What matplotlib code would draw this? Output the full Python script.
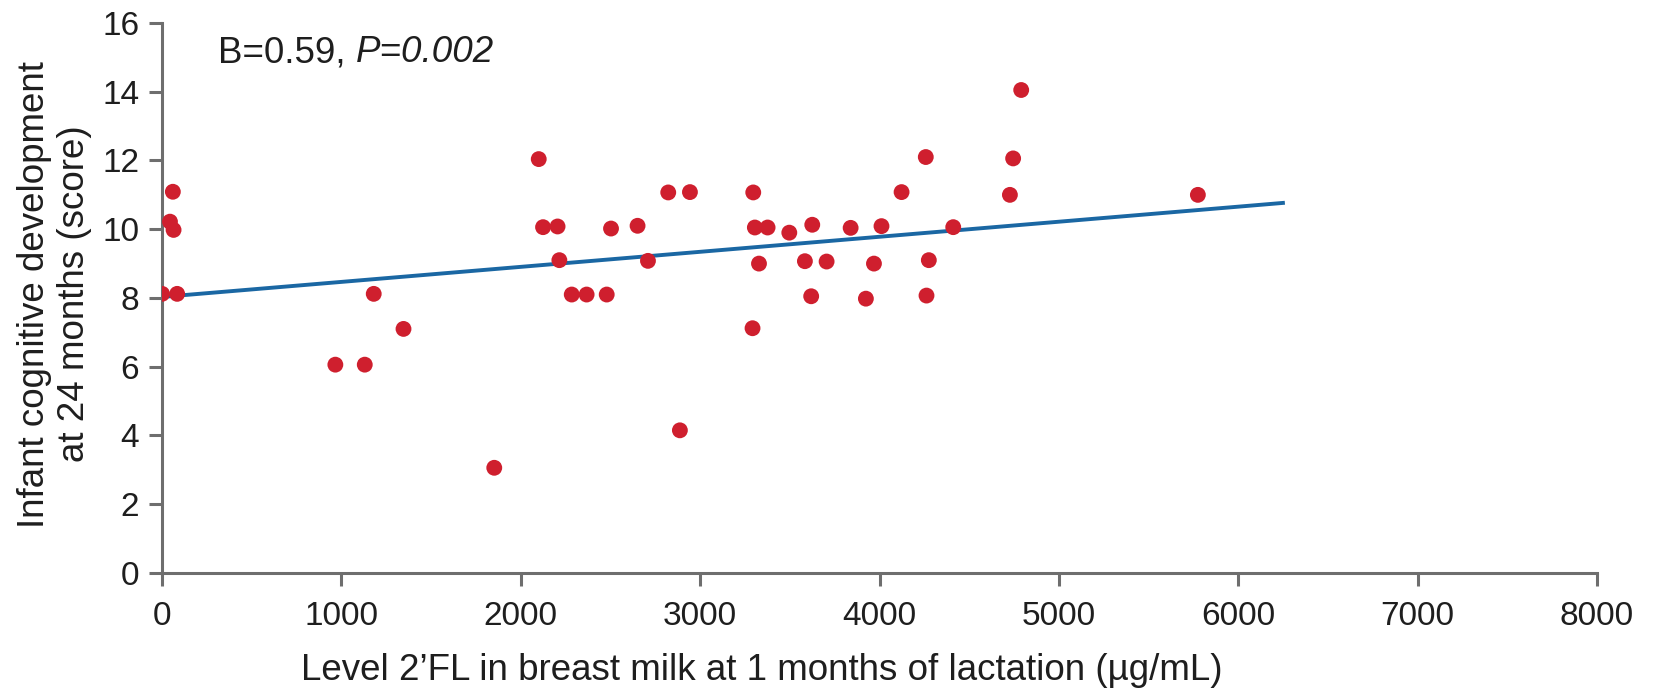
import matplotlib
matplotlib.use("Agg")
import matplotlib.pyplot as plt

plt.rcParams["font.family"] = ["Liberation Sans", "DejaVu Sans"]

# 2'FL level (ug/mL) and cognitive score for each infant
level_2fl = [0, 44, 60, 64, 84, 966, 1130, 1180, 1346, 1852,
             2100, 2124, 2205, 2215, 2284, 2367, 2479, 2503, 2651, 2709,
             2822, 2887, 2943, 3292, 3296, 3305, 3328, 3376, 3497, 3584,
             3619, 3625, 3705, 3839, 3924, 3969, 4011, 4123, 4258, 4262,
             4275, 4411, 4727, 4745, 4790, 5775]
cog_score = [8.12, 10.22, 11.09, 9.98, 8.12, 6.06, 6.06, 8.12, 7.10, 3.06,
             12.04, 10.06, 10.08, 9.10, 8.10, 8.10, 8.10, 10.02, 10.10, 9.08,
             11.07, 4.15, 11.08, 7.12, 11.07, 10.05, 9.00, 10.05, 9.90, 9.07,
             8.05, 10.13, 9.06, 10.04, 7.98, 9.00, 10.09, 11.08, 12.10, 8.07,
             9.10, 10.06, 11.00, 12.06, 14.05, 11.00]

# regression line end points
fit_x = [0, 6260]
fit_y = [8.03, 10.77]

x_ticks = [0, 1000, 2000, 3000, 4000, 5000, 6000, 7000, 8000]
y_ticks = [0, 2, 4, 6, 8, 10, 12, 14, 16]

axis_col = "#6e6e6e"
text_col = "#1e1e1e"
label_fs = 26.5
tick_fs = 24

fig = plt.figure(figsize=(16.54, 6.92), dpi=100)
ax = fig.add_axes([0.098, 0.172, 0.8675, 0.7948])

ax.plot(fit_x, fit_y, color="#1a67a3", lw=2.8, zorder=2, solid_capstyle="butt")
ax.scatter(level_2fl, cog_score, s=130, color="#cf1f2e", edgecolors="none", zorder=3)

ax.set_xlim(0, 8000)
ax.set_ylim(0, 16)
ax.set_xticks(x_ticks)
ax.set_yticks(y_ticks)

for side in ("top", "right"):
    ax.spines[side].set_visible(False)
for side in ("left", "bottom"):
    ax.spines[side].set_color(axis_col)
    ax.spines[side].set_linewidth(2.2)

ax.tick_params(axis="both", colors=axis_col, width=2.2, length=9.4,
               labelsize=tick_fs, labelcolor=text_col)
ax.tick_params(axis="x", pad=11)
ax.tick_params(axis="y", pad=7)

ax.set_xlabel("Level 2\u2019FL in breast milk at 1 months of lactation (\u00b5g/mL)",
              fontsize=label_fs, color=text_col, va="center")
ax.xaxis.set_label_coords(0.418, -0.178)
ax.set_ylabel("Infant cognitive development\nat 24 months (score)",
              fontsize=label_fs, color=text_col, multialignment="center",
              va="center", linespacing=1.2)
ax.yaxis.set_label_coords(-0.075, 0.507)

t1 = ax.text(0.039, 0.946, "B=0.59, ", transform=ax.transAxes,
             fontsize=label_fs, color=text_col, va="center", ha="left")
ax.annotate("P=0.002", xy=(1, 0), xycoords=t1, va="bottom", ha="left",
            fontsize=label_fs, color=text_col, fontstyle="italic")

fig.savefig("out.png", dpi=100, facecolor="white")
